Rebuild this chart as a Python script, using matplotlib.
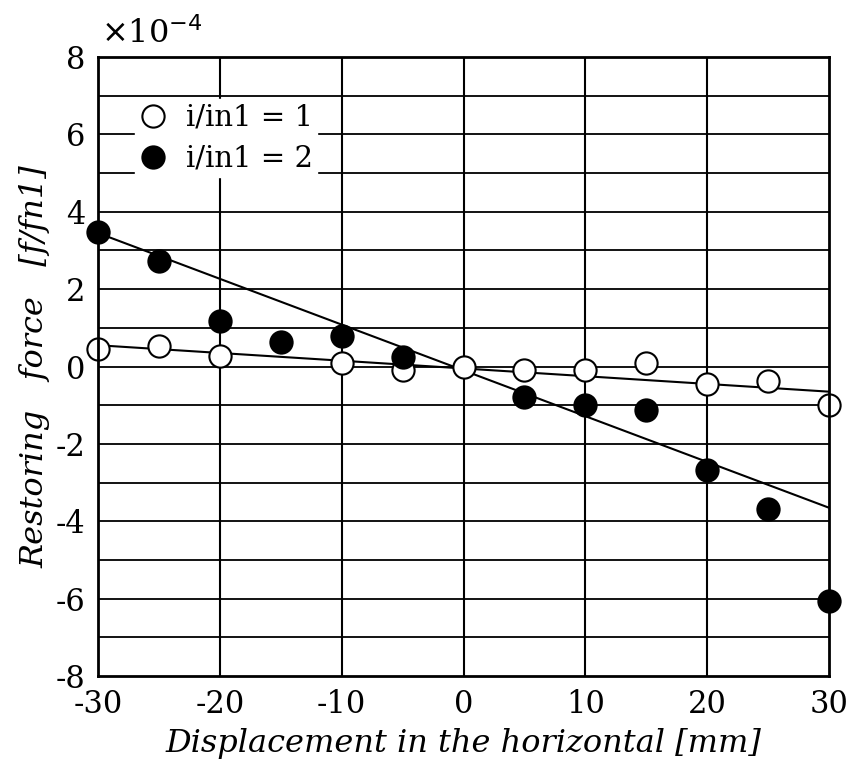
import matplotlib
matplotlib.use("Agg")
import matplotlib.pyplot as plt
import numpy as np

plt.rcParams['font.family'] = ['DejaVu Serif']
plt.rcParams['axes.unicode_minus'] = False

# displacement [mm]
x1 = [-30, -25, -20, -10, -5, 0, 5, 10, 15, 20, 25, 30]
y1 = [0.45, 0.54, 0.28, 0.10, -0.10, 0.0, -0.10, -0.08, 0.10, -0.45, -0.38, -1.00]

x2 = [-30, -25, -20, -15, -10, -5, 5, 10, 15, 20, 25, 30]
y2 = [3.47, 2.73, 1.18, 0.64, 0.80, 0.25, -0.78, -1.00, -1.12, -2.67, -3.67, -6.07]

# fitted lines
fit_x = [-30, 30]
fit_y1 = [0.55, -0.65]
fit_y2 = [3.45, -3.65]

fig = plt.figure(figsize=(8.56, 7.7), dpi=100)
ax = fig.add_axes([0.1145, 0.122, 0.854, 0.804])

ax.set_xlim(-30, 30)
ax.set_ylim(-8, 8)

for yy in range(-7, 8):
    ax.axhline(yy, color='black', lw=1.3, zorder=1)
for xx in [-20, -10, 0, 10, 20]:
    ax.axvline(xx, color='black', lw=1.5, zorder=1)

ax.plot(fit_x, fit_y1, color='black', lw=1.5, zorder=2)
ax.plot(fit_x, fit_y2, color='black', lw=1.5, zorder=2)

ax.plot(x1, y1, 'o', ms=16, mfc='white', mec='black', mew=1.5,
        label='i/in1 = 1', zorder=3, clip_on=False)
ax.plot(x2, y2, 'o', ms=16, mfc='black', mec='black', mew=1.5,
        label='i/in1 = 2', zorder=3, clip_on=False)

leg = ax.legend(loc='upper left', bbox_to_anchor=(0.03, 0.955), frameon=True,
                fancybox=False, edgecolor='white', framealpha=1,
                fontsize=21, handletextpad=0.6, borderpad=0.15,
                labelspacing=0.45, handlelength=1.0)
leg.set_zorder(5)

for sp in ax.spines.values():
    sp.set_linewidth(2)
    sp.set_zorder(6)

ax.set_xticks([-30, -20, -10, 0, 10, 20, 30])
ax.set_yticks([-8, -6, -4, -2, 0, 2, 4, 6, 8])
ax.tick_params(length=0, labelsize=22, pad=9)

ax.set_xlabel('Displacement in the horizontal [mm]', fontsize=23,
              style='italic', labelpad=6)
ax.set_ylabel('Restoring   force   [f/fn1]', fontsize=23,
              style='italic', labelpad=4)

fig.text(0.118, 0.935, r'$\times$10$^{-4}$', fontsize=23, ha='left', va='bottom')

fig.savefig('out.png', dpi=100)
